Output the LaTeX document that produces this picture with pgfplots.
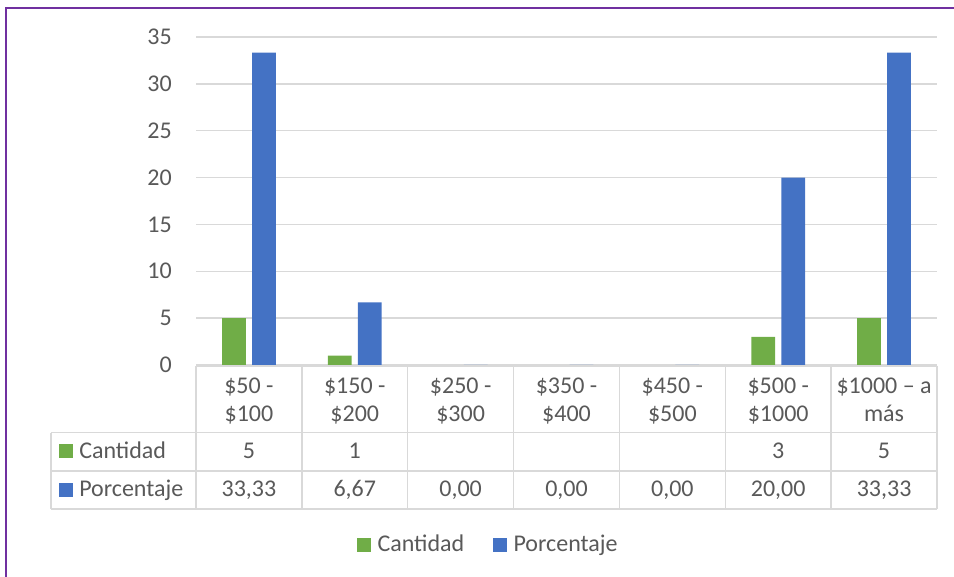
\documentclass[border=0pt]{standalone}
\usepackage{pgfplots}
\pgfplotsset{compat=1.18}
\usepackage{fontspec}
\setmainfont{Carlito}
\definecolor{cgreen}{HTML}{70AD47}
\definecolor{cblue}{HTML}{4472C4}
\definecolor{ctext}{HTML}{595959}
\definecolor{cgrid}{HTML}{D9D9D9}
\definecolor{cframe}{HTML}{7030A0}
\begin{document}
\fontsize{18}{21.6}\selectfont
\begin{tikzpicture}
\useasboundingbox (0,0) rectangle (715.5pt,432.75pt);
\begin{axis}[
  at={(147pt,159pt)}, anchor=south west,
  scale only axis, width=555.75pt, height=246pt,
  xmin=-0.5, xmax=6.5, ymin=0, ymax=35,
  ytick={0,5,...,35}, xtick=\empty,
  ymajorgrids, grid style={cgrid, line width=1pt},
  axis line style={draw=none},
  major tick length=0pt,
  yticklabel style={font=\fontsize{18}{21.6}\selectfont, text=ctext, xshift=-12pt},
  /pgf/number format/assume math mode=true,
  ybar, bar width=17.8pt,
]
\addplot[fill=cgreen, draw=none, bar shift=-11.25pt] coordinates {(0,5) (1,1) (5,3) (6,5)};
\addplot[fill=cblue, draw=none, bar shift=11.25pt] coordinates {(0,33.33) (1,6.67) (2,0) (3,0) (4,0) (5,20) (6,33.33)};
\end{axis}
\begin{scope}[x=0.75pt, y=-0.75pt, yshift=432.75pt]
  \draw[cframe, line width=1.5pt] (6,577) -- (6,8) -- (954,8);
  % table lines
  \draw[cgrid, line width=1.1pt] (196,366) -- (937,366);
  \draw[cgrid, line width=1.1pt] (51,432.7) -- (937,432.7);
  \draw[cgrid, line width=1.1pt] (51,471) -- (937,471);
  \draw[cgrid, line width=1.1pt] (51,509) -- (937,509);
  \draw[cgrid, line width=1.1pt] (51,432.7) -- (51,509);
  \foreach \X in {196,301.86,407.71,513.57,619.43,725.29,831.14,937}
    \draw[cgrid, line width=1.1pt] (\X,366) -- (\X,509);
  % header labels and values
  \foreach \X/\a/\b/\c/\p in {
      248.93/{\$50 -}/{\$100}/5/{33,33},
      354.79/{\$150 -}/{\$200}/1/{6,67},
      460.64/{\$250 -}/{\$300}//{0,00},
      566.50/{\$350 -}/{\$400}//{0,00},
      672.36/{\$450 -}/{\$500}//{0,00},
      778.21/{\$500 -}/{\$1000}/3/{20,00},
      884.07/{\$1000 – a}/{más}/5/{33,33}} {
    \node[anchor=base, inner sep=0pt, text=ctext] at (\X,394) {\a};
    \node[anchor=base, inner sep=0pt, text=ctext] at (\X,421.7) {\b};
    \node[anchor=base, inner sep=0pt, text=ctext] at (\X,458.7) {\c};
    \node[anchor=base, inner sep=0pt, text=ctext] at (\X,496.7) {\p};
  }
  % row labels
  \fill[cgreen] (59,444) rectangle (73,458);
  \node[anchor=base west, inner sep=0pt, text=ctext] at (79,458.7) {Cantidad};
  \fill[cblue] (59,482.7) rectangle (73,496.7);
  \node[anchor=base west, inner sep=0pt, text=ctext] at (79,496.7) {Porcentaje};
  % legend
  \fill[cgreen] (357,537.7) rectangle (370.7,551.7);
  \node[anchor=base west, inner sep=0pt, text=ctext] at (377.3,551.7) {Cantidad};
  \fill[cblue] (492.7,537.7) rectangle (506.7,551.7);
  \node[anchor=base west, inner sep=0pt, text=ctext] at (513.3,551.7) {Porcentaje};
\end{scope}
\end{tikzpicture}
\end{document}
